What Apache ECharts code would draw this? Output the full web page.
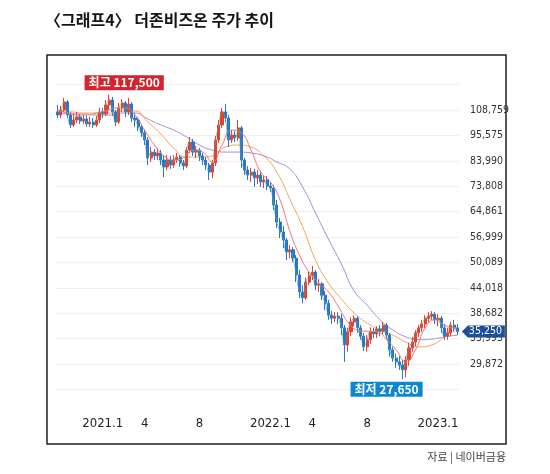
<!DOCTYPE html>
<html>
<head>
<meta charset="utf-8">
<title>더존비즈온 주가 추이</title>
<script src="https://cdn.jsdelivr.net/npm/echarts@6/dist/echarts.min.js"></script>
<style>
html,body{margin:0;padding:0;background:#fff;}
#chart{width:550px;height:474px;}
</style>
</head>
<body>
<div id="chart"></div>
<script>
// 주봉 시작일 (2020-09-28 주부터 125주)
var startDate = '2020-09-28';
var weekCount = 125;

// x축에 찍을 눈금 (주 인덱스 / 라벨)
var xTickIdx = [14, 27, 44, 66, 79, 96, 118];
var xTickLabels = ['2021.1', '4', '8', '2022.1', '4', '8', '2023.1'];

// y축 눈금 (로그 간격)
var yTickLabels = ['29,872', '33,993', '38,682', '44,018', '50,089', '56,999',
	'64,861', '73,808', '83,990', '95,575', '108,759'];

// 주봉 [시가, 종가, 저가, 고가]
var candles = [
	[107700,106000,104400,111600],[106000,108800,104400,111000],[108800,113300,107700,115600],[113300,106000,104400,114400],
	[106000,100800,99300,107700],[100800,103400,99800,107100],[103400,105000,101800,107700],[105000,102800,101300,106600],
	[102800,103900,101300,106000],[103900,101300,99800,105500],[101300,102300,99800,105000],[102300,100800,99300,104400],
	[100800,103400,99800,105500],[103400,107700,101800,109900],[107700,106600,104400,109900],[106600,111600,105500,114400],
	[111600,114400,108800,117500],[114400,107700,105500,116200],[107700,102300,100300,108800],[102300,109900,101300,112700],
	[109900,112700,107700,115000],[112700,107700,105000,113800],[107700,112100,106000,115600],[112100,104400,102300,113300],
	[104400,103400,99800,107100],[103400,99800,97700,105000],[99800,96800,94800,100800],[96800,93400,91000,98200],
	[93400,85200,82200,94800],[85200,87800,83500,90100],[87800,86100,84300,89200],[86100,87400,84300,89600],
	[87400,84300,82200,88700],[84300,81400,77300,86500],[81400,84300,80100,86500],[84300,82200,80600,86100],
	[82200,84300,81000,86500],[84300,85600,83100,87400],[85600,83100,81400,86500],[83100,81800,80100,84300],
	[81800,88700,81000,90100],[88700,92400,87400,94800],[92400,87800,86100,93800],[87800,88700,85200,90600],
	[88700,86100,83900,89600],[86100,84300,82200,87400],[84300,82200,80100,85600],[82200,79300,76200,83100],
	[79300,83100,77000,84300],[83100,93400,81800,95300],[93400,100800,92000,103400],[100800,107700,99300,109900],
	[107700,104400,102300,112100],[104400,93400,90100,106000],[93400,95800,92000,98200],[95800,94300,92400,97700],
	[94300,99300,92900,103400],[99300,84300,81000,100300],[84300,80100,78100,85200],[80100,78100,76200,81800],
	[78100,79300,75400,81000],[79300,77000,73500,80600],[77000,78100,74600,80100],[78100,75400,73500,79300],
	[75400,76200,73100,77700],[76200,73900,72400,77700],[73900,73100,71700,75400],[73100,67100,65400,74300],
	[67100,61500,59700,68800],[61500,58500,56700,62800],[58500,56100,53900,60300],[56100,52800,50700,56700],
	[52800,53400,51200,54700],[53400,51200,50200,54200],[51200,47000,45300,52000],[47000,43100,41800,48200],
	[43100,41800,40700,44600],[41800,45300,41400,46300],[45300,46800,44600,47700],[46800,47700,45800,49200],
	[47700,44600,43500,48200],[44600,44900,43100,46000],[44900,42400,41400,45300],[42400,40700,39300,43300],
	[40700,38300,37400,41400],[38300,37700,36600,39100],[37700,38100,37000,38900],[38100,37700,36600,38900],
	[37700,35900,34600,38500],[35900,32900,30200,36400],[32900,35200,31800,35900],[35200,37000,34400,37900],
	[37000,37700,36200,38300],[37700,35900,35000,38100],[35900,34400,33800,36400],[34400,32600,31900,35000],
	[32600,33800,31800,34600],[33800,35200,33100,36000],[35200,34800,34100,35900],[34800,35700,34100,36200],
	[35700,35300,34400,36400],[35300,36400,34800,37000],[36400,34600,33800,36800],[34600,32100,31000,35000],
	[32100,30800,30200,32600],[30800,30200,29300,31500],[30200,29700,29000,31100],[29700,29000,27650,30500],
	[29000,30500,27900,31100],[30500,32400,29600,33300],[32400,33400,31800,34300],[33400,35000,32700,35500],
	[35000,35900,34300,36400],[35900,36600,35200,37400],[36600,37700,35900,38300],[37700,38100,37000,38900],
	[38100,38500,37400,39100],[38500,37400,36600,38900],[37400,37700,36200,38500],[37700,35900,35000,38100],
	[35900,34400,33800,36600],[34400,35000,33800,35900],[35000,36400,34400,37000],[36400,35900,35200,37400],
	[35900,35250,34600,36600]
];

// 이동평균선 (그림에서 읽은 값, [주 인덱스, 가격])
var ma20 = [[0,108800],[3,107100],[6,106000],[9,106000],[12,107100],[15,108200],[18,109900],[21,109900],
	[24,106000],[27,98200],[30,91000],[33,86100],[36,84300],[39,85200],[42,88700],[45,87800],[48,83500],
	[51,91000],[54,98200],[57,96800],[60,88700],[63,79300],[66,75400],[69,68800],[72,58800],[75,52000],
	[78,47700],[81,45100],[84,43100],[87,40100],[90,37000],[93,35500],[96,35300],[99,35200],[102,33900],
	[105,32100],[108,30200],[111,32100],[114,35900],[117,37400],[120,36400],[123,35900],[124,35900]];
var ma60 = [[0,107700],[4,107700],[8,107100],[12,107100],[16,107100],[20,108200],[24,108200],[28,102300],
	[32,96300],[36,89600],[40,85600],[44,85600],[48,86100],[52,90100],[56,91000],[60,90100],[64,86100],
	[68,79300],[72,69200],[76,60000],[80,50700],[84,45100],[88,41600],[92,38700],[96,36800],[100,35500],
	[104,34600],[108,33400],[112,32600],[116,32900],[120,34300],[124,35900]];
var ma120 = [[0,107100],[4,106600],[8,106600],[12,106000],[16,106000],[20,107100],[24,107100],[28,103900],
	[32,100800],[36,98200],[40,94800],[44,91000],[48,88700],[52,87800],[56,87800],[60,87400],[64,86100],
	[68,83500],[72,80600],[76,73500],[80,64400],[84,56400],[88,49700],[92,43300],[96,40300],[100,37400],
	[104,35500],[108,34300],[112,33800],[116,33900],[120,34300],[124,34600]];

var highIdx = 16, lowIdx = 107;

function buildDates(start, n) {
	var list = [];
	var d = new Date(start + 'T00:00:00Z');
	for (var i = 0; i < n; i++) {
		var t = new Date(d.getTime() + i * 7 * 86400000);
		list.push(t.toISOString().slice(0, 10));
	}
	return list;
}
function fmt(n) {
	return String(n).replace(/\B(?=(\d{3})+(?!\d))/g, ',');
}

var dates = buildDates(startDate, weekCount);
var closes = candles.map(function(c) { return c[1]; });
var last = candles[candles.length - 1];

// 로그축: 눈금 간격을 그대로 밑으로 사용
var yFirst = 29872, yLast = 108759;
var STEP = Math.pow(yLast / yFirst, 1 / (yTickLabels.length - 1));
var Y_MIN = yFirst / STEP, Y_MAX = yLast * STEP;

var fontKR = '"Noto Sans CJK KR", "Noto Sans", sans-serif';
var fontNum = '"DejaVu Sans Condensed", "Liberation Sans", sans-serif';

var option = {
	animation: false,
	backgroundColor: '#fff',
	grid: { left: 56, right: 91, top: 84.6, bottom: 84.6, outerBoundsMode: 'none' },
	xAxis: {
		type: 'category',
		data: dates,
		boundaryGap: true,
		axisLine: { show: false },
		axisTick: { show: false },
		splitLine: { show: false },
		axisLabel: {
			margin: 28,
			color: '#222',
			fontSize: 13,
			fontFamily: fontNum,
			interval: function(idx) { return xTickIdx.indexOf(idx) >= 0; },
			formatter: function(val, idx) {
				var k = xTickIdx.indexOf(idx);
				return k >= 0 ? xTickLabels[k] : '';
			}
		}
	},
	yAxis: {
		type: 'log',
		logBase: STEP,
		min: Y_MIN,
		max: Y_MAX,
		interval: 1,
		position: 'right',
		axisLine: { show: false },
		axisTick: { show: false },
		splitLine: { show: true, lineStyle: { color: '#eef0f3', width: 1 } },
		axisLabel: {
			margin: 11,
			color: '#333',
			fontSize: 10.5,
			fontFamily: fontNum,
			showMinLabel: false,
			showMaxLabel: false,
			formatter: function(v) {
				var k = Math.round(Math.log(v / Y_MIN) / Math.log(STEP)) - 1;
				return yTickLabels[k] || '';
			}
		}
	},
	series: [
		{
			name: 'MA120', type: 'line', data: ma120, smooth: true, showSymbol: false, z: 1,
			lineStyle: { color: '#a98bd4', width: 1 }
		},
		{
			name: 'MA60', type: 'line', data: ma60, smooth: true, showSymbol: false, z: 1,
			lineStyle: { color: '#f7a553', width: 1 }
		},
		{
			name: '주가', type: 'candlestick', data: candles, barWidth: 2.6, z: 2,
			itemStyle: {
				color: '#ee3b36', color0: '#2a74d8',
				borderColor: '#ee3b36', borderColor0: '#2a74d8', borderWidth: 1
			},
			markPoint: {
				symbolSize: 0,
				silent: true,
				data: [
					{
						coord: [highIdx, candles[highIdx][3]],
						label: {
							show: true, position: 'inside', offset: [15, -12],
							formatter: '최고 ' + fmt(candles[highIdx][3]),
							color: '#fff', fontSize: 12, fontWeight: 'bold', fontFamily: fontKR,
							backgroundColor: '#d4242c', padding: [2, 4, 1, 4]
						}
					},
					{
						coord: [lowIdx, candles[lowIdx][2]],
						label: {
							show: true, position: 'inside', offset: [-16, 10],
							formatter: '최저 ' + fmt(candles[lowIdx][2]),
							color: '#fff', fontSize: 12, fontWeight: 'bold', fontFamily: fontKR,
							backgroundColor: '#0d87cf', padding: [2, 4, 1, 4]
						}
					},
					{
						coord: [candles.length - 1, last[1]],
						symbol: 'path://M0,6L6,0L43,0L43,12L6,12Z',
						symbolSize: [43, 12],
						symbolKeepAspect: false,
						symbolOffset: [26, 0],
						itemStyle: { color: '#1d4f9b' },
						label: {
							show: true, position: 'inside', offset: [2, 0],
							formatter: fmt(last[1]),
							color: '#fff', fontSize: 10.5, fontFamily: fontNum
						}
					}
				]
			}
		},
		{
			name: 'MA20', type: 'line', data: ma20, smooth: true, showSymbol: false, z: 3,
			lineStyle: { color: '#f47378', width: 1 }
		},
		{
			name: 'MA5', type: 'line', data: closes, smooth: true, showSymbol: false, z: 3,
			lineStyle: { color: '#45b25a', width: 0.8, opacity: 0.8 }
		}
	],
	graphic: [
		{
			type: 'text', left: 45, top: 12,
			style: { text: '〈그래프4〉 더존비즈온 주가 추이', font: 'bold 16px ' + fontKR, fill: '#151515' }
		},
		{
			type: 'rect', shape: { x: 47, y: 55, width: 459, height: 389 },
			style: { fill: 'none', stroke: '#222', lineWidth: 1.5 }, silent: true
		},
		{
			type: 'text', right: 44, top: 451,
			style: { text: '자료 | 네이버금융', font: '11px ' + fontKR, fill: '#444' }
		}
	]
};

var myChart = echarts.init(document.getElementById('chart'));
myChart.setOption(option);
</script>
</body>
</html>
